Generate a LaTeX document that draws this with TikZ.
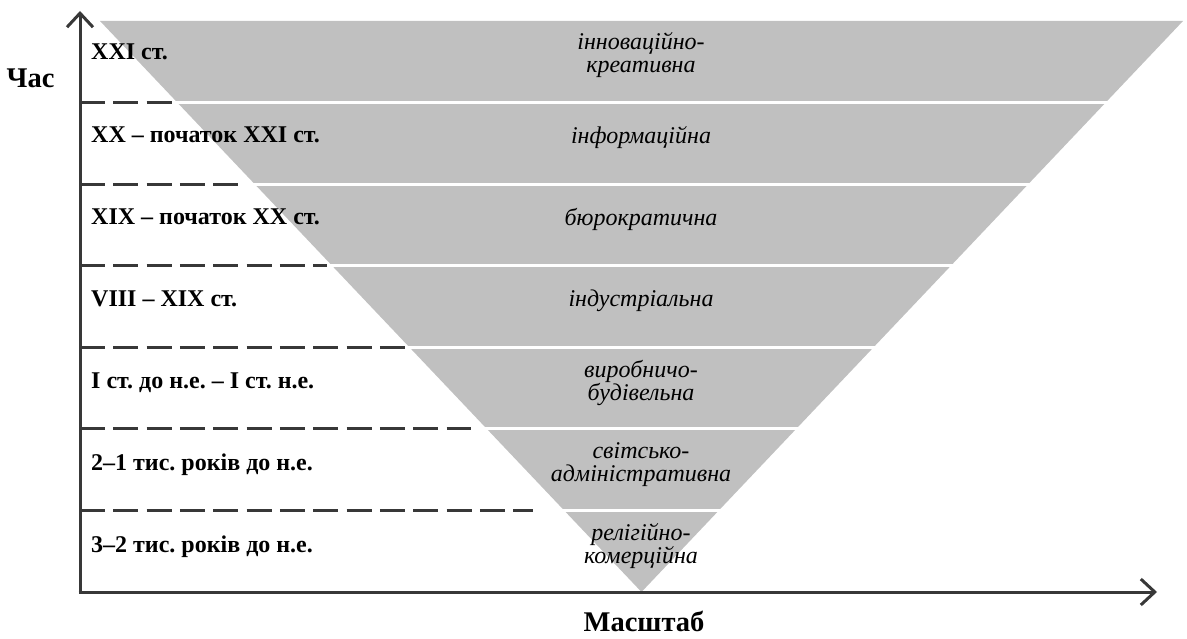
\documentclass[tikz,border=0pt]{standalone}
\usepackage{fontspec}
\setmainfont{Liberation Serif}
\usetikzlibrary{arrows.meta}
\frenchspacing
\definecolor{bandgray}{HTML}{C0C0C0}
\definecolor{axisgray}{HTML}{383838}
\tikzset{
  axisline/.style={draw=axisgray, line width=3pt, -{Straight Barb[length=14pt,width=26pt]}},
  guide/.style={draw=axisgray, line width=3pt, dash pattern=on 25pt off 8.33pt},
  sep/.style={draw=white, line width=3pt},
  period/.style={anchor=base west, font=\bfseries\fontsize{24}{26}\selectfont, inner sep=0pt},
  kind/.style={anchor=base, font=\itshape\fontsize{24}{22.5}\selectfont, inner sep=0pt},
  axislabel/.style={anchor=base, font=\bfseries\fontsize{28.5}{30}\selectfont, inner sep=0pt}
}
\newcommand{\twolines}[2]{\begin{tabular}[t]{@{}c@{}}#1\\#2\end{tabular}}
\begin{document}
\begin{tikzpicture}[x=1pt,y=-1pt]
\useasboundingbox (0,0) rectangle (1187,639);
% triangle
\coordinate (TL) at (100,21);
\coordinate (TR) at (1183,21);
\coordinate (AP) at (641.5,592);
\fill[bandgray] (TL) -- (TR) -- (AP) -- cycle;
% band separators
\foreach \i in {1,...,6}{
  \pgfmathsetmacro{\yy}{21+\i*81.571}
  \pgfmathsetmacro{\xl}{100+\i*77.357}
  \pgfmathsetmacro{\xr}{1183-\i*77.357}
  \draw[sep] (\xl-2,\yy) -- (\xr+2,\yy);
}
% dashed guides
\coordinate (O) at (80,592);
\foreach \i/\e in {1/172,2/238,3/327,4/408,5/471,6/533}{
  \pgfmathsetmacro{\yy}{21+\i*81.571}
  \coordinate (gs\i) at (80,\yy);
  \coordinate (ge\i) at (\e,\yy);
  \draw[guide] (gs\i) -- (ge\i);
}
% axes
\coordinate (YT) at (80,11);
\coordinate (XT) at (1157,592);
\coordinate (O2) at (78.5,592);
\draw[axisline] (O) -- (YT);
\draw[axisline] (O2) -- (XT);
% axis labels
\node[axislabel] (time) at (30.5,88) {Час};
\node[axislabel] (scale) at (644,631) {Масштаб};
% period labels
\node[period] (p1) at (91,60) {XXI ст.};
\node[period] (p2) at (91,143) {XX – початок XXI ст.};
\node[period] (p3) at (91,225) {XIX – початок XX ст.};
\node[period] (p4) at (91,307) {VIII – XIX ст.};
\node[period] (p5) at (91,388) {I ст. до н.е. – I ст. н.е.};
\node[period] (p6) at (91,470) {2–1 тис. років до н.е.};
\node[period] (p7) at (91,552) {3–2 тис. років до н.е.};
% kinds
\node[kind] (k1) at (641,50) {\twolines{інноваційно-}{креативна}};
\node[kind] (k2) at (641,144) {інформаційна};
\node[kind] (k3) at (641,226) {бюрократична};
\node[kind] (k4) at (641,307) {індустріальна};
\node[kind] (k5) at (641,377) {\twolines{виробничо-}{будівельна}};
\node[kind] (k6) at (641,458) {\twolines{світсько-}{адміністративна}};
\node[kind] (k7) at (641,540) {\twolines{релігійно-}{комерційна}};
\end{tikzpicture}
\end{document}
